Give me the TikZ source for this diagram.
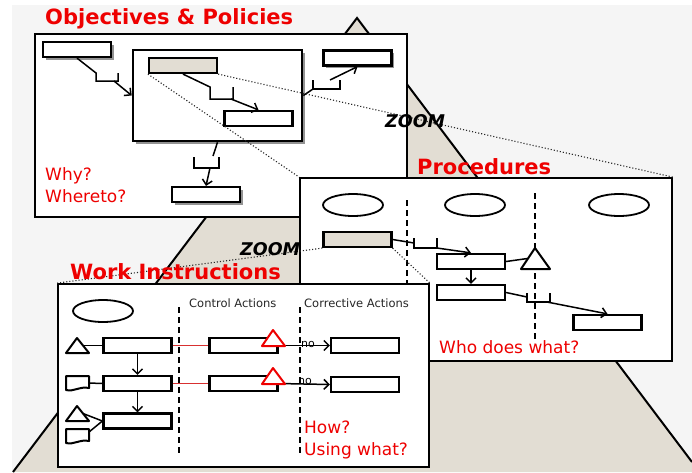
\documentclass[tikz,border=0pt]{standalone}
\usepackage{fontspec}
\setmainfont{DejaVu Sans}
\usetikzlibrary{arrows.meta,shapes.geometric,shadows}

\definecolor{sand}{HTML}{E2DDD3}
\definecolor{paper}{HTML}{F5F5F5}
\definecolor{signal}{HTML}{EE0000}
\definecolor{flag}{HTML}{D83030}

\begin{document}
\begin{tikzpicture}[x=1pt, y=-1pt, node distance=38pt, >={Straight Barb[length=5pt,width=10pt]},
  panel/.style={rectangle, draw, fill=white, line width=1.8pt, inner sep=0pt},
  task/.style={rectangle, draw, fill=white, line width=2.2pt, minimum width=68pt, minimum height=15pt, inner sep=0pt},
  focus task/.style={task, fill=sand},
  lifted/.style={drop shadow={shadow xshift=2.5pt, shadow yshift=-2.5pt, fill=black!70, opacity=.6}},
  role/.style={ellipse, draw, line width=1.8pt, minimum width=60pt, minimum height=22pt, inner sep=0pt},
  sign/.style={draw, fill=white, line width=2pt, line join=round},
  link/.style={line width=1.5pt},
  flag line/.style={line width=1.2pt, flag},
  lane/.style={line width=1.3pt, dash pattern=on 6pt off 4pt},
  zoom line/.style={dotted, line width=1.1pt, black!85},
  zoom text/.style={font=\fontsize{17.5}{18}\selectfont\bfseries\itshape, inner sep=0pt, anchor=base west},
  title/.style={font=\fontsize{21}{21}\selectfont\bfseries, text=signal, inner sep=0pt, anchor=base west},
  question/.style={font=\fontsize{17}{17}\selectfont, text=signal, inner sep=0pt, anchor=base west},
  column/.style={font=\fontsize{11.5}{12}\selectfont, text=black!85, inner sep=0pt, anchor=base west},
  note/.style={font=\fontsize{11}{11}\selectfont, inner sep=0pt, anchor=base west}]

  \useasboundingbox (0,0) rectangle (692,472);
  \fill[white] (0,0) rectangle (692,472);
  \fill[paper] (12,5) rectangle (692,472);

  % pyramid
  \fill[sand] (357,18) -- (692,462) -- (692,472) -- (13,472) -- cycle;
  \draw[line width=2pt] (13,472) -- (357,18) -- (692,462);

  % objectives and policies
  \node[panel, minimum width=372pt, minimum height=183pt] (obj) at (221,125.5) {};
  \node[title] (objtitle) at (45,24) {Objectives \& Policies};
  \node[task, lifted] (goal) at (77,49.5) {};
  \node[panel, lifted, line width=2.6pt, minimum width=169pt, minimum height=91pt] (policy) at (217.5,95.5) {};
  \node[focus task] (focus) at (183,65.5) {};
  \node[task] (subgoal) at (258.5,118.5) {};
  \node[task, lifted] (target) at (357.5,58) {};
  \node[task, lifted] (result) at (206,194.5) {};
  \node[question] (why) at (45,180) {Why?};
  \node[question] (whereto) at (45,202) {Whereto?};

  \draw[link] (goal.south) -- (96,73) -- (96,81) -- (118,81) -- (118,73);
  \draw[link,->] (114,81) -- (policy.west);
  \draw[link] (focus.south) -- (210,87) -- (210,99) -- (233,99) -- (233,87);
  \draw[link,->] (231,99) -- (subgoal.north);
  \draw[link] (policy.east) -- (313,89);
  \draw[link] (313,80) -- (313,89) -- (340,89) -- (340,80);
  \draw[link,->] (330,80) -- (target.south);
  \draw[link] (policy.south) -- (213,156);
  \draw[link] (194,157) -- (194,168) -- (219,168) -- (219,157);
  \draw[link,->] (210,168) -- (result.north);

  % procedures
  \node[panel, minimum width=372pt, minimum height=183pt] (proc) at (486,269.5) {};
  \draw[zoom line] (focus.south west) -- (proc.north west);
  \draw[zoom line] (focus.south east) -- (proc.north east);
  \node[zoom text] (zoom1) at (385,127) {ZOOM};
  \node[title] (proctitle) at (417,174) {Procedures};

  \node[role] (unit1) at (353,205) {};
  \node[role] (unit2) at (475,205) {};
  \node[role] (unit3) at (619,205) {};
  \draw[lane] (407,200) -- (407,330);
  \draw[lane] (535,193) -- (535,343);

  \node[focus task] (step) at (357.5,239.5) {};
  \node[task] (act) at (471,261.5) {};
  \node[task] (check) at (471,292.5) {};
  \node[task] (hand) at (607.5,322.5) {};
  \draw[sign] (535,248) -- (550,269) -- (521,269) -- cycle;
  \coordinate (mark) at (527.5,258.5);

  \draw[link] (step.east) -- (414,243);
  \draw[link] (414,238) -- (414,248) -- (437,248) -- (437,238);
  \draw[link,->] (437,248) -- (act.north);
  \draw[link,->] (act.south) -- (check.north);
  \draw[link] (act.east) -- (mark);
  \draw[link] (check.east) -- (527,297);
  \draw[link] (527,293) -- (527,302) -- (550,302) -- (550,293);
  \draw[link,->] (547,302) -- (hand.north);
  \node[question] (who) at (439,353) {Who does what?};

  % work instructions
  \node[panel, minimum width=371pt, minimum height=183pt] (work) at (243.5,375.5) {};
  \draw[zoom line] (step.south west) -- (work.north west);
  \draw[zoom line] (step.south east) -- (work.north east);
  \node[zoom text] (zoom2) at (240,255) {ZOOM};
  \node[title] (worktitle) at (70,279) {Work Instructions};

  \node[role] (worker) at (103,311) {};
  \draw[lane] (179,307) -- (179,455);
  \draw[lane] (300,307) -- (300,455);
  \node[column] (ctlhead) at (189,307) {Control Actions};
  \node[column] (fixhead) at (304,307) {Corrective Actions};

  \node[task] (op1) at (137.5,345.5) {};
  \node[task, below of=op1] (op2) {};
  \node[task, below of=op2, node distance=37.5pt] (op3) {};
  \node[task, right of=op1, node distance=106pt] (ctl1) {};
  \node[task, right of=op2, node distance=106pt] (ctl2) {};
  \node[task] (fix1) at (365,345.5) {};
  \node[task] (fix2) at (365,384.5) {};

  \draw[sign] (77,338) -- (89,353) -- (66,353) -- cycle;
  \coordinate (sign1) at (83,345.5);
  \draw[sign] (66,376) -- (89,376) -- (89,388) .. controls (80,386) and (74,392) .. (66,390) -- cycle;
  \coordinate (doc1) at (89,383);
  \draw[sign] (77,406) -- (89,421) -- (66,421) -- cycle;
  \coordinate (sign2) at (83,413.5);
  \draw[sign] (66,429) -- (89,429) -- (89,441) .. controls (80,439) and (74,445) .. (66,443) -- cycle;
  \coordinate (doc2) at (89,432);

  \draw[link] (sign1) -- (op1.west);
  \draw[link] (doc1) -- (op2.west);
  \draw[link] (sign2) -- (op3.west);
  \draw[link] (doc2) -- (op3.west);
  \draw[link,->] (op1.south) -- (op2.north);
  \draw[link,->] (op2.south) -- (op3.north);

  \draw[flag line] (op1.east) -- (ctl1.west);
  \draw[flag line] (op2.east) -- (ctl2.west);
  \draw[link,->] (ctl1.east) -- (fix1.west);
  \draw[link,->] (ctl2.east) -- (fix2.west);
  \draw[sign, draw=signal] (273,330) -- (285,346) -- (262,346) -- cycle;
  \draw[sign, draw=signal] (273,368) -- (285,384) -- (262,384) -- cycle;
  \node[note] (no1) at (301,347) {no};
  \node[note] (no2) at (298,384) {no};

  \node[question] (how) at (304,433) {How?};
  \node[question] (using) at (304,455) {Using what?};
\end{tikzpicture}
\end{document}
